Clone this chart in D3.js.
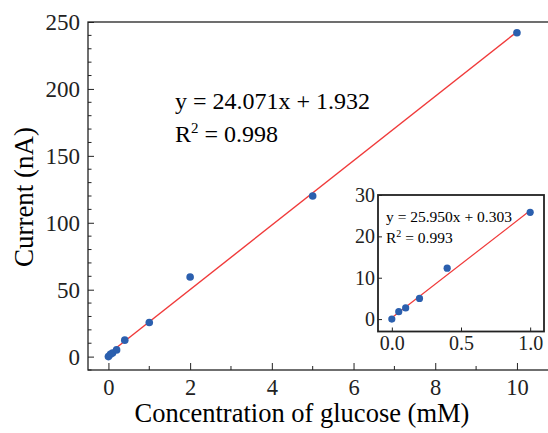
<!DOCTYPE html>
<meta charset="utf-8">
<head>
  <title>Glucose calibration</title>
  <script src="https://d3js.org/d3.v7.min.js"></script>
  <style>
    body { margin: 0; background: #fff; }
    svg { display: block; font-family: "Liberation Serif", "Times New Roman", serif; }
    .axis path, .axis line { stroke: #222; }
    .axis text { fill: #222; }
  </style>
</head>
<body>
<svg width="548" height="433"></svg>
<script>
// glucose (mM) vs current (nA)
var conc = [0, 0.05, 0.1, 0.2, 0.4, 1, 2, 5, 10];
var current = [0, 1.8, 2.7, 5.0, 12.3, 25.5, 59.5, 120, 242];
var fitMain = {slope: 24.071, icpt: 1.932, label: "y = 24.071x + 1.932", r2: "0.998"};

// inset: low range only
var concLow = [0, 0.05, 0.1, 0.2, 0.4, 1];
var currentLow = [0, 1.8, 2.7, 5.0, 12.3, 25.8];
var fitLow = {slope: 25.950, icpt: 0.303, label: "y = 25.950x + 0.303", r2: "0.993"};

var xTicks = [0, 2, 4, 6, 8, 10];
var yTicks = [0, 50, 100, 150, 200, 250];
var xTicksLow = [0, 0.5, 1.0];
var yTicksLow = [0, 10, 20, 30];

var dotColor = "#2b5fae", lineColor = "#f03a3a";
var serif = "'Liberation Serif', 'Times New Roman', serif";

var svg = d3.select("svg");

var x = d3.scaleLinear().domain([-0.5, 11]).range([88, 557.8]);
var y = d3.scaleLinear().domain([-10, 250]).range([370, 22]);

// frame
svg.append("rect")
    .attr("x", x.range()[0]).attr("y", y.range()[1])
    .attr("width", x.range()[1] - x.range()[0])
    .attr("height", y.range()[0] - y.range()[1])
    .attr("fill", "none").attr("stroke", "#222").attr("stroke-width", 1.3);

// minor ticks
svg.append("g").selectAll("line")
    .data(d3.range(-10, 251, 10).filter(function(d) { return d % 50 != 0; }))
    .enter().append("line")
    .attr("x1", 88).attr("x2", 91.5)
    .attr("y1", function(d) { return y(d); }).attr("y2", function(d) { return y(d); })
    .attr("stroke", "#222");
svg.append("g").selectAll("line")
    .data([1, 3, 5, 7, 9])
    .enter().append("line")
    .attr("y1", 370).attr("y2", 366)
    .attr("x1", function(d) { return x(d); }).attr("x2", function(d) { return x(d); })
    .attr("stroke", "#222");

var xAxis = d3.axisBottom(x).tickValues(xTicks).tickSize(-7).tickPadding(9).tickSizeOuter(0);
var yAxis = d3.axisLeft(y).tickValues(yTicks).tickSize(-6).tickPadding(8).tickSizeOuter(0);

svg.append("g").attr("class", "axis")
    .attr("transform", "translate(0,370)")
    .call(xAxis)
    .attr("font-family", serif).attr("font-size", 22.5)
    .call(function(g) { g.select(".domain").remove(); });

svg.append("g").attr("class", "axis")
    .attr("transform", "translate(88,0)")
    .call(yAxis)
    .attr("font-family", serif).attr("font-size", 23)
    .call(function(g) { g.select(".domain").remove(); })
    .selectAll("text").attr("dy", "0.33em");

svg.append("text")
    .attr("x", 302).attr("y", 422)
    .attr("text-anchor", "middle")
    .style("font-size", "26.5px")
    .text("Concentration of glucose (mM)");

svg.append("text")
    .attr("transform", "translate(33,197) rotate(-90)")
    .attr("text-anchor", "middle")
    .style("font-size", "27px")
    .text("Current (nA)");

// fit line
svg.append("line")
    .attr("x1", x(0)).attr("y1", y(fitMain.icpt))
    .attr("x2", x(10)).attr("y2", y(fitMain.slope * 10 + fitMain.icpt))
    .attr("stroke", lineColor).attr("stroke-width", 1.4);

svg.append("g").selectAll("circle")
    .data(conc)
    .enter().append("circle")
    .attr("cx", function(d) { return x(d); })
    .attr("cy", function(d, i) { return y(current[i]); })
    .attr("r", 3.8)
    .attr("fill", dotColor);

var eq = svg.append("text").attr("x", 175).attr("y", 109).style("font-size", "24px");
eq.text(fitMain.label);
var r2 = svg.append("text").attr("x", 175).attr("y", 142).style("font-size", "24px");
r2.append("tspan").text("R");
r2.append("tspan").attr("dy", -9).style("font-size", "15px").text("2");
r2.append("tspan").attr("dy", 9).text(" = " + fitMain.r2);

// ---- inset ----
var xi = d3.scaleLinear().domain([-0.1, 1.1]).range([378, 544]);
var yi = d3.scaleLinear().domain([-3, 30]).range([331.5, 195]);

svg.append("rect")
    .attr("x", 378).attr("y", 195)
    .attr("width", 166).attr("height", 136.5)
    .attr("fill", "#fff").attr("stroke", "#222").attr("stroke-width", 1.8);

svg.append("g").attr("class", "axis")
    .attr("transform", "translate(0,331.5)")
    .call(d3.axisBottom(xi).tickValues(xTicksLow).tickSize(-4).tickPadding(4).tickSizeOuter(0)
        .tickFormat(d3.format(".1f")))
    .attr("font-family", serif).attr("font-size", 20)
    .call(function(g) { g.select(".domain").remove(); });

svg.append("g").attr("class", "axis")
    .attr("transform", "translate(378,0)")
    .call(d3.axisLeft(yi).tickValues(yTicksLow).tickSize(-4).tickPadding(3).tickSizeOuter(0))
    .attr("font-family", serif).attr("font-size", 20)
    .call(function(g) { g.select(".domain").remove(); })
    .selectAll("text").attr("dy", "0.33em");

svg.append("line")
    .attr("x1", xi(0)).attr("y1", yi(fitLow.icpt))
    .attr("x2", xi(1)).attr("y2", yi(fitLow.slope + fitLow.icpt))
    .attr("stroke", lineColor).attr("stroke-width", 1.2);

svg.append("g").selectAll("circle")
    .data(concLow)
    .enter().append("circle")
    .attr("cx", function(d) { return xi(d); })
    .attr("cy", function(d, i) { return yi(currentLow[i]); })
    .attr("r", 3.6)
    .attr("fill", dotColor);

svg.append("text").attr("x", 386).attr("y", 222).style("font-size", "15.5px").text(fitLow.label);
var r2i = svg.append("text").attr("x", 386).attr("y", 243).style("font-size", "15.5px");
r2i.append("tspan").text("R");
r2i.append("tspan").attr("dy", -6).style("font-size", "10px").text("2");
r2i.append("tspan").attr("dy", 6).text(" = " + fitLow.r2);
</script>
</body>
